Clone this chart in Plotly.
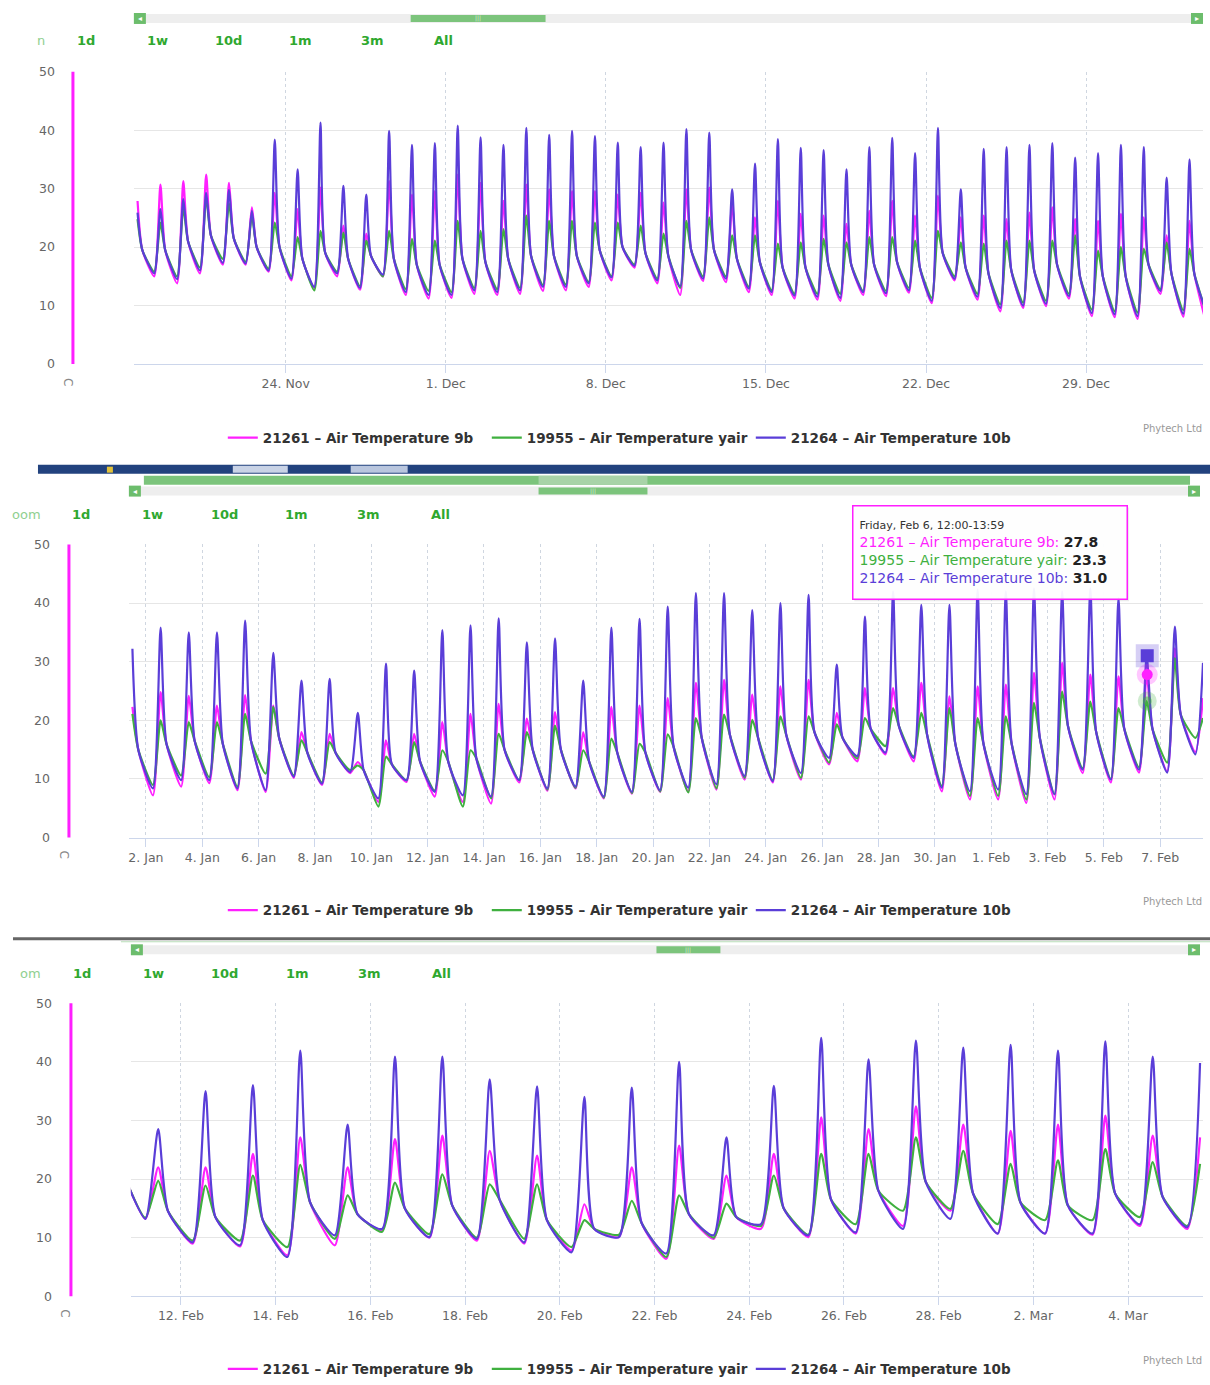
import pandas as pd
import plotly.graph_objects as go

W, H = 1210, 1385
# the photographed page is mapped as  y_img = Y_OFF + Y_SCALE * y_page ; compensate so that
# layout positions given in reference-image pixels land where they should.
Y_OFF, Y_SCALE = 8.0, 0.9855
def px(x): return x / W
def py(y): return 1 - ((y - Y_OFF) / Y_SCALE) / H

SERIES = ["21261 – Air Temperature 9b", "19955 – Air Temperature yair", "21264 – Air Temperature 10b"]
COLORS = ["#ff1fff", "#3fb03f", "#5a3ed8"]
BUTTONS = ["1d", "1w", "10d", "1m", "3m", "All"]
LOW_H, PEAK_H, EVE_H = 6.0, 12.5, 17.5

# ---------------- Panel 1 : 17 Nov 2014 - 3 Jan 2015 ----------------
p1_days = [d.strftime("%Y-%m-%d") for d in pd.date_range("2014-11-17", "2015-01-03")]
p1_mag_hi = [27.9, 30.7, 31.3, 32.4, 31.0, 26.8, 29.3, 26.5, 30.2, 23.7, 22.3, 31.3, 29.0, 29.6,
             32.4, 31.0, 27.9, 30.7, 29.9, 29.6, 29.6, 29.0, 29.3, 27.6, 29.9, 30.2, 27.6, 25.1, 27.9, 25.7,
             25.4, 24.0, 26.2, 27.9, 25.4, 28.8, 25.1, 25.4, 24.8, 25.9, 26.8, 24.8, 24.5, 25.7, 25.1,
             22.0, 24.5, None]
p1_grn_hi = [24.8, 24.2, 26.8, 28.5, 27.5, 25.4, 24.2, 21.7, 22.8, 22.5, 21.1, 22.8, 21.4, 21.1,
             24.5, 22.8, 23.1, 25.4, 24.5, 24.5, 24.2, 24.2, 23.7, 22.3, 24.5, 25.1, 22.0, 22.0, 20.6, 20.8,
             21.4, 20.8, 21.7, 21.7, 21.1, 22.8, 20.8, 20.6, 21.1, 21.1, 21.1, 22.0, 19.4, 20.0, 19.7,
             20.8, 19.7, None]
p1_pur_hi = [25.9, 26.5, 28.2, 29.3, 29.8, 26.2, 38.4, 33.3, 41.3, 30.5, 29.0, 39.9, 37.5, 37.8,
             40.8, 38.8, 37.5, 40.4, 39.2, 39.9, 39.0, 37.9, 37.1, 37.9, 40.2, 39.6, 29.9, 34.3, 38.5, 37.0,
             36.6, 33.3, 37.1, 38.7, 36.1, 40.4, 29.9, 36.8, 37.1, 37.5, 37.8, 35.3, 36.1, 37.5, 37.1,
             31.9, 35.0, None]
p1_eve = [19.5, 19.5, 21.0, 22.0, 21.5, 20.0, 20.0, 18.0, 19.0, 18.0, 18.5, 18.0, 17.0, 17.0,
          18.0, 17.5, 18.0, 18.5, 18.5, 18.5, 19.5, 20.0, 19.0, 18.5, 19.5, 19.5, 18.0, 17.5, 16.5, 16.5,
          17.0, 17.0, 17.0, 17.5, 16.5, 19.0, 16.5, 15.5, 16.0, 16.0, 17.0, 15.0, 15.0, 15.0, 17.0,
          15.5, 15.5, None]
p1_mag_lo = [None, 15.0, 13.8, 15.5, 17.0, 17.0, 15.8, 14.3, 13.0, 15.0, 12.7, 15.0, 11.8, 11.2,
             11.3, 12.0, 11.8, 12.0, 12.5, 12.6, 13.2, 14.3, 16.5, 13.8, 11.8, 14.2, 14.0, 12.3, 11.8, 11.2,
             11.0, 10.8, 11.8, 11.6, 12.2, 10.4, 14.3, 11.0, 9.0, 9.6, 9.9, 11.2, 8.2, 8.0, 7.7,
             12.0, 8.1, 7.0]
p1_grn_lo = [None, 15.8, 15.0, 16.5, 18.0, 17.5, 16.3, 15.0, 12.6, 15.8, 13.3, 15.0, 12.8, 12.5,
             12.3, 13.0, 12.8, 13.0, 13.5, 13.6, 14.0, 15.0, 17.0, 14.6, 13.0, 15.0, 15.0, 13.2, 12.6, 12.0,
             12.0, 12.0, 12.5, 12.5, 13.0, 11.3, 15.0, 12.0, 10.2, 10.5, 10.8, 12.0, 9.3, 9.0, 8.8,
             12.8, 9.2, 8.8]
p1_pur_lo = [None, 15.5, 14.5, 16.0, 17.3, 17.2, 16.0, 14.6, 13.2, 15.5, 13.0, 15.3, 12.3, 11.8,
             11.8, 12.6, 12.3, 12.6, 13.2, 13.2, 13.8, 14.8, 16.8, 14.3, 13.3, 14.6, 14.6, 12.9, 12.3, 11.7,
             11.5, 11.3, 12.3, 12.1, 12.6, 10.8, 14.6, 11.5, 9.6, 10.0, 10.3, 11.6, 8.7, 8.5, 8.2,
             12.5, 8.6, 9.0]
p1_ticks = ["2014-11-24", "2014-12-01", "2014-12-08", "2014-12-15", "2014-12-22", "2014-12-29"]
p1_ticktext = ["24. Nov", "1. Dec", "8. Dec", "15. Dec", "22. Dec", "29. Dec"]
p1_range = ["2014-11-17 08:40", "2015-01-03 02:40"]

# ---------------- Panel 2 : 1 Jan 2015 - 8 Feb 2015 ----------------
p2_days = [d.strftime("%Y-%m-%d") for d in pd.date_range("2015-01-01", "2015-02-08")]
p2_mag_hi = [22.3, 24.8, 24.2, 22.5, 24.3, 22.5, 18.0, 17.7, 12.9, 16.6, 17.7, 19.7, 21.1, 22.8, 20.3, 21.4,
             18.0, 22.3, 22.5, 23.8, 26.4, 26.9, 24.4, 25.8, 26.9, 21.3, 25.5, 25.5, 26.4, 24.1, 25.8,
             26.1, 28.1, 29.8, 27.8, 27.5, 27.8, 32.3, 23.8]
p2_grn_hi = [21.1, 20.0, 19.7, 19.7, 21.1, 22.3, 16.6, 16.3, 12.3, 13.8, 16.3, 14.9, 14.9, 17.7, 18.0, 19.1,
             14.9, 16.9, 16.0, 17.6, 20.4, 21.0, 20.1, 20.7, 20.7, 19.3, 20.4, 22.1, 21.3, 22.1, 20.4,
             20.7, 23.0, 24.9, 23.2, 22.1, 23.3, 30.6, 20.4]
p2_pur_hi = [32.2, 35.8, 35.0, 35.0, 37.0, 31.5, 26.8, 27.1, 21.3, 29.7, 28.5, 35.4, 36.2, 37.4, 33.3, 34.0,
             26.8, 35.8, 37.3, 39.4, 41.7, 41.7, 38.8, 40.0, 41.4, 29.5, 37.7, 42.0, 39.7, 39.7, 42.3,
             42.0, 42.5, 42.0, 42.5, 40.8, 31.0, 36.0, 29.8]
p2_eve = [15.0, 16.0, 16.5, 16.0, 16.5, 17.0, 14.5, 14.5, 11.5, 12.5, 13.0, 13.0, 13.5, 15.0, 15.0, 15.0,
          13.0, 14.5, 14.5, 15.5, 17.0, 17.5, 17.0, 17.5, 18.0, 17.0, 18.5, 19.0, 17.5, 16.0, 16.0,
          16.0, 17.0, 19.0, 18.0, 18.5, 18.5, 21.0, None]
p2_mag_lo = [None, 7.2, 8.7, 9.3, 8.1, 7.8, 10.2, 9.0, 11.0, 6.1, 9.5, 7.0, 6.1, 5.8, 9.4, 8.0,
             8.4, 6.7, 7.5, 7.8, 7.9, 8.2, 9.9, 9.4, 9.9, 12.5, 13.0, 14.2, 13.0, 7.9, 6.5,
             6.5, 5.9, 6.5, 11.0, 9.4, 11.1, 11.3, 14.6]
p2_grn_lo = [None, 9.0, 10.6, 10.3, 8.7, 10.9, 10.6, 9.4, 11.5, 5.3, 9.8, 8.0, 5.3, 6.7, 9.8, 8.2,
             8.5, 6.8, 7.6, 7.9, 7.7, 8.4, 10.2, 9.8, 10.2, 12.8, 13.5, 15.6, 13.8, 8.8, 7.1,
             7.1, 6.5, 7.4, 11.8, 10.0, 12.0, 12.8, 17.0]
p2_pur_lo = [None, 8.4, 9.8, 9.8, 8.4, 8.1, 10.4, 9.2, 11.2, 6.7, 9.8, 7.8, 7.2, 7.0, 9.8, 8.4,
             8.7, 7.0, 7.8, 8.1, 8.5, 9.1, 10.5, 9.6, 11.0, 13.6, 13.9, 14.5, 13.6, 8.5, 7.9,
             8.2, 7.4, 7.4, 11.6, 9.9, 11.6, 11.1, 14.2]
p2_ticks = ["2015-01-02", "2015-01-04", "2015-01-06", "2015-01-08", "2015-01-10", "2015-01-12", "2015-01-14",
            "2015-01-16", "2015-01-18", "2015-01-20", "2015-01-22", "2015-01-24", "2015-01-26", "2015-01-28",
            "2015-01-30", "2015-02-01", "2015-02-03", "2015-02-05", "2015-02-07"]
p2_ticktext = ["2. Jan", "4. Jan", "6. Jan", "8. Jan", "10. Jan", "12. Jan", "14. Jan", "16. Jan", "18. Jan",
               "20. Jan", "22. Jan", "24. Jan", "26. Jan", "28. Jan", "30. Jan", "1. Feb", "3. Feb", "5. Feb",
               "7. Feb"]
p2_range = ["2015-01-01 09:30", "2015-02-08 12:30"]

# tooltip (hovered point)
tip_time = "2015-02-06 13:00"
tip_vals = [27.8, 23.3, 31.0]
tip_title = "Friday, Feb 6, 12:00-13:59"

# ---------------- Panel 3 : 10 Feb 2015 - 5 Mar 2015 ----------------
p3_days = [d.strftime("%Y-%m-%d") for d in pd.date_range("2015-02-10", "2015-03-05")]
p3_mag_hi = [None, 22.0, 22.0, 24.3, 27.1, 22.0, 26.8, 27.4, 24.8, 24.0, 15.7, 22.0, 25.7, 20.6, 24.3,
             30.5, 28.5, 32.4, 29.3, 28.2, 29.3, 30.8, 27.4, 27.1]
p3_grn_hi = [None, 19.7, 18.9, 20.6, 22.4, 17.2, 19.4, 20.8, 19.1, 19.1, 13.0, 16.3, 17.2, 15.8, 20.6,
             24.3, 24.3, 27.1, 24.8, 22.6, 23.2, 25.1, 22.9, 22.6]
p3_pur_hi = [None, 28.5, 35.0, 36.0, 41.9, 29.3, 40.9, 40.9, 37.0, 35.8, 34.0, 35.6, 40.0, 27.1, 35.9,
             44.1, 40.4, 43.6, 42.4, 42.9, 41.9, 43.5, 40.9, 39.8]
p3_eve = [22.0, 14.5, 13.5, 13.0, 16.0, 14.0, 15.0, 15.5, 16.5, 13.0, 11.5, 12.5, 14.0, 13.5, 15.0,
          16.5, 18.0, 19.5, 17.5, 16.0, 15.5, 17.5, 17.0, None]
p3_mag_lo = [None, 13.2, 9.0, 8.5, 7.0, 8.7, 11.3, 10.0, 9.5, 9.0, 7.8, 10.1, 6.4, 9.8, 11.5,
             10.1, 10.7, 12.0, 14.6, 10.7, 10.7, 10.5, 12.0, 11.5]
p3_grn_lo = [None, 13.4, 9.5, 9.5, 8.4, 9.8, 11.0, 10.6, 10.0, 9.8, 8.4, 10.5, 6.7, 10.0, 12.0,
             10.5, 12.3, 14.6, 14.9, 12.3, 13.0, 13.0, 13.5, 12.0]
p3_pur_lo = [None, 13.2, 9.2, 8.7, 6.7, 10.4, 11.5, 10.1, 9.8, 9.2, 7.5, 10.1, 7.3, 10.4, 12.3,
             10.4, 10.9, 11.5, 13.2, 10.7, 10.7, 10.7, 12.3, 11.8]
p3_ticks = ["2015-02-12", "2015-02-14", "2015-02-16", "2015-02-18", "2015-02-20", "2015-02-22",
            "2015-02-24", "2015-02-26", "2015-02-28", "2015-03-02", "2015-03-04"]
p3_ticktext = ["12. Feb", "14. Feb", "16. Feb", "18. Feb", "20. Feb", "22. Feb", "24. Feb", "26. Feb",
               "28. Feb", "2. Mar", "4. Mar"]
p3_range = ["2015-02-10 22:40", "2015-03-05 14:00"]

Y_TICKS = [0, 10, 20, 30, 40, 50]


def series_xy(days, lo, hi, eve):
    xs, ys = [], []
    for d, l, h, e in zip(days, lo, hi, eve):
        t0 = pd.Timestamp(d)
        for hrs, v in ((LOW_H, l), (PEAK_H, h), (EVE_H, e)):
            if v is not None:
                xs.append(t0 + pd.Timedelta(hours=hrs))
                ys.append(v)
    return xs, ys


panels = [
    dict(days=p1_days, hi=[p1_mag_hi, p1_grn_hi, p1_pur_hi], lo=[p1_mag_lo, p1_grn_lo, p1_pur_lo], eve=p1_eve,
         ticks=p1_ticks, ticktext=p1_ticktext, rng=p1_range, xdom=(133, 1203), ydom=(72, 365),
         legend_y=439, credit_y=430, btn_y=41, btn_x=[85, 157, 228, 300, 372, 443], zoom=("n", 40),
         maxis=72, cmark=(67, 383)),
    dict(days=p2_days, hi=[p2_mag_hi, p2_grn_hi, p2_pur_hi], lo=[p2_mag_lo, p2_grn_lo, p2_pur_lo], eve=p2_eve,
         ticks=p2_ticks, ticktext=p2_ticktext, rng=p2_range, xdom=(128, 1203), ydom=(546, 840),
         legend_y=913, credit_y=904, btn_y=516, btn_x=[80, 152, 224, 296, 368, 440], zoom=("oom", 26),
         maxis=68, cmark=(63, 857)),
    dict(days=p3_days, hi=[p3_mag_hi, p3_grn_hi, p3_pur_hi], lo=[p3_mag_lo, p3_grn_lo, p3_pur_lo], eve=p3_eve,
         ticks=p3_ticks, ticktext=p3_ticktext, rng=p3_range, xdom=(130, 1203), ydom=(1006, 1300),
         legend_y=1373, credit_y=1364, btn_y=976, btn_x=[81, 153, 224, 297, 369, 441], zoom=("om", 30),
         maxis=70, cmark=(64, 1317)),
]

fig = go.Figure()
FONT = "DejaVu Sans, sans-serif"
annotations = []
shapes = []


def label(x, y, text, size, color, **kw):
    d = dict(x=px(x), y=py(y), xref="paper", yref="paper", text=text, showarrow=False,
             xanchor="center", yanchor="middle", font=dict(family=FONT, size=size, color=color))
    d.update(kw)
    annotations.append(d)


for i, p in enumerate(panels):
    n = "" if i == 0 else str(i + 1)
    leg = "legend" + n
    for s in range(3):
        xs, ys = series_xy(p["days"], p["lo"][s], p["hi"][s], p["eve"])
        fig.add_trace(go.Scatter(x=xs, y=ys, mode="lines", name=SERIES[s], legend=leg,
                                 line=dict(color=COLORS[s], width=2.2, shape="spline", smoothing=0.6),
                                 xaxis="x" + n, yaxis="y" + n, hoverinfo="skip"))
    fig.layout["xaxis" + n] = dict(
        type="date", range=p["rng"], domain=[px(p["xdom"][0]), px(p["xdom"][1])], anchor="y" + n,
        tickmode="array", tickvals=p["ticks"], ticktext=p["ticktext"], showgrid=True,
        gridcolor="#cfd6e0", griddash="dot", gridwidth=1, showline=True, linecolor="#ccd6eb",
        ticks="outside", ticklen=8, tickcolor="#ccd6eb", zeroline=False,
        tickfont=dict(family=FONT, size=12.5, color="#666666"), fixedrange=True)
    fig.layout["yaxis" + n] = dict(
        range=[0, 50], domain=[py(p["ydom"][1]), py(p["ydom"][0])], anchor="x" + n,
        tickmode="array", tickvals=Y_TICKS, showgrid=True, gridcolor="#e6e6e6", gridwidth=1,
        zeroline=False, showline=False, ticklabelstandoff=78,
        tickfont=dict(family=FONT, size=12.5, color="#666666"), fixedrange=True)
    fig.layout[leg] = dict(
        orientation="h", x=0.511, xanchor="center", y=py(p["legend_y"]), yanchor="middle",
        font=dict(family=FONT, size=13.5, color="#333333", weight="bold"), itemwidth=30,
        entrywidth=219, entrywidthmode="pixels", bgcolor="rgba(0,0,0,0)", tracegroupgap=0)
    # magenta axis line on the far left
    shapes.append(dict(type="line", xref="paper", yref="paper", x0=px(p["maxis"]), x1=px(p["maxis"]),
                       y0=py(p["ydom"][0]), y1=py(p["ydom"][1]), line=dict(color="#ff1fff", width=3)))
    label(p["cmark"][0], p["cmark"][1], "C", 12, "#888888", textangle=90)
    # range selector buttons
    label(p["zoom"][1], p["btn_y"], p["zoom"][0], 13, "#8fcf8f")
    for b, bx in zip(BUTTONS, p["btn_x"]):
        label(bx, p["btn_y"], "<b>%s</b>" % b, 13, "#2fa82f")
    label(1172, p["credit_y"], "Phytech Ltd", 10, "#999999")


def rect(x0, y0, x1, y1, color):
    shapes.append(dict(type="rect", xref="paper", yref="paper", x0=px(x0), x1=px(x1), y0=py(y1), y1=py(y0),
                       fillcolor=color, line=dict(width=0), layer="below"))


def scrollbar(x0, x1, y0, y1, t0, t1):
    rect(x0, y0, x1, y1, "#eeeeee")
    rect(t0, y0 + 1, t1, y1 - 1, "#7cc47c")
    rect(x0, y0 - 1, x0 + 12, y1 + 1, "#6cbd6c")
    rect(x1 - 12, y0 - 1, x1, y1 + 1, "#6cbd6c")
    yc = (y0 + y1) / 2
    label(x0 + 6, yc, "◂", 8, "#ffffff")
    label(x1 - 6, yc, "▸", 8, "#ffffff")
    label((t0 + t1) / 2, yc, "|||", 6, "#d8eed8")


# panel 1 header
scrollbar(133, 1203, 14, 23, 410, 545)
# separator band (screenshot task bar) between panel 1 and 2
rect(37, 466, 1210, 475, "#22427e")
rect(232, 467, 287, 474, "#c9d3e6")
rect(350, 467, 407, 474, "#b9c6de")
rect(106, 468, 112, 474, "#e2c23a")
# panel 2 header: navigator strip + scrollbar
rect(143, 477, 1190, 486, "#7cc47c")
rect(538, 477, 647, 486, "#a8d3a8")
scrollbar(128, 1200, 488, 497, 538, 647)
# panel 3 header
rect(12, 940, 1210, 943, "#666666")
rect(120, 944, 1210, 945, "#b8ddb8")
scrollbar(130, 1200, 948, 957, 656, 720)

# hover markers at the tooltip point (panel 2)
for s, sym, size in ((0, "circle", 11), (1, "circle", 9), (2, "square", 13)):
    fig.add_trace(go.Scatter(x=[tip_time], y=[tip_vals[s]], mode="markers", showlegend=False,
                             marker=dict(symbol=sym, size=size + 10, color=COLORS[s], opacity=0.25),
                             xaxis="x2", yaxis="y2", hoverinfo="skip"))
    fig.add_trace(go.Scatter(x=[tip_time], y=[tip_vals[s]], mode="markers", showlegend=False,
                             marker=dict(symbol=sym, size=size, color=COLORS[s],
                                         opacity=0.5 if s == 1 else 1.0),
                             xaxis="x2", yaxis="y2", hoverinfo="skip"))

# tooltip box
rect(854, 509, 1129, 603, "rgba(0,0,0,0.08)")
tip_lines = ['<span style="font-size:11px;color:#333333">%s</span>' % tip_title]
for s in range(3):
    tip_lines.append('<span style="color:%s">%s: </span><span style="color:#222222"><b>%.1f</b></span>'
                     % (COLORS[s], SERIES[s], tip_vals[s]))
label(989.5, 554, "<br>".join(tip_lines), 14, "#333333", align="left", width=261, height=80,
      bgcolor="rgba(255,255,255,0.94)", bordercolor="#ff1fff", borderwidth=1.5, borderpad=6)

fig.update_layout(width=W, height=H, autosize=False, margin=dict(l=0, r=0, t=0, b=0),
                  paper_bgcolor="#ffffff", plot_bgcolor="#ffffff", shapes=shapes, annotations=annotations,
                  hovermode=False, font=dict(family=FONT))

PAGE_JS = ("var de=document.documentElement, b=document.body, gd=document.getElementById('{plot_id}');"
           "[de, b].forEach(function(e){e.style.margin='0';e.style.padding='0';e.style.overflow='hidden';"
           "e.style.height='1385px';});"
           "gd.style.position='absolute';gd.style.top='0px';gd.style.left='0px';")
fig.write_html("out.html", config={"displayModeBar": False}, post_script=PAGE_JS)
